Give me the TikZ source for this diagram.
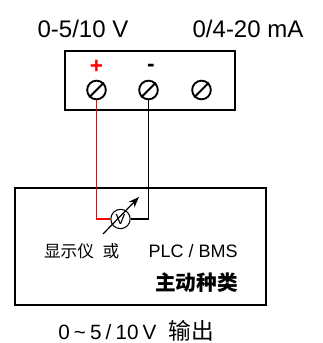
\documentclass[tikz,border=0pt]{standalone}
\usepackage{fontspec}
\setmainfont{Liberation Sans}
\newfontfamily\cjk{Noto Sans CJK SC}
\usetikzlibrary{arrows.meta}

\tikzset{
  screw/.style={draw, circle, line width=1.4pt, minimum size=14pt, inner sep=0pt},
  meter/.style={draw, circle, line width=0.8pt, minimum size=14.5pt, inner sep=0pt, fill=white},
  wire/.style={line width=0.8pt},
}

\begin{document}
\begin{tikzpicture}[x=0.75pt, y=-0.75pt]
    \useasboundingbox (0,0) rectangle (323,343);
%    top terminal block
    \draw [black, line width=1.1pt] (65,51) rectangle (235,110);
    \node (vlab) at (83,29) [] {\fontsize{18}{20}\selectfont 0-5/10 V};
    \node (alab) at (248,29) [] {\fontsize{18}{20}\selectfont 0/4-20 mA};

    \node (tp) at (96.5,90) [screw] {};
    \node (tn) at (148.5,90) [screw] {};
    \node (tc) at (201.5,90) [screw] {};
    \foreach \t in {tp,tn,tc}
        \draw [line width=1.4pt] (\t.225) -- (\t.45);
    \node (plus) at (96.5,67) [red] {\fontsize{17}{17}\selectfont\bfseries +};
    \node (minus) at (151,68) [] {\fontsize{17}{17}\selectfont\bfseries -};

%    receiving device
    \draw [black, line width=1.1pt] (15,188) rectangle (266,305);
    \node (vm) at (120.5,219) [meter] {\fontsize{11}{11}\selectfont V};
    \draw [wire, red] (tp.south) |- (vm.west);
    \draw [wire] (tn.south) |- (vm.east);
    \coordinate (arrS) at (103,234);
    \coordinate (arrE) at (139,197);
    \draw [line width=0.9pt, -{Stealth[length=8pt,width=6pt]}] (arrS) -- (arrE);

    \node (dev) at (238,251) [anchor=east, inner sep=0pt]
        {{\cjk\fontsize{12.5}{14}\selectfont 显示仪\hspace{6.5pt}或}\hspace{22pt}{\fontsize{13.5}{14}\selectfont PLC / BMS}};
    \node (kind) at (238,283) [anchor=east, inner sep=0pt] {\cjk\bfseries\fontsize{15.5}{17}\selectfont 主动种类};

    \node (out) at (58,339) [anchor=base west, inner sep=0pt] {\fontsize{15.5}{17}\selectfont 0\hspace{0.2em}\textasciitilde\hspace{0.2em}5\hspace{0.2em}/\hspace{0.2em}10\hspace{0.2em}V\hspace{0.6em}{\cjk\fontsize{17}{17}\selectfont 输出}};
\end{tikzpicture}
\end{document}
